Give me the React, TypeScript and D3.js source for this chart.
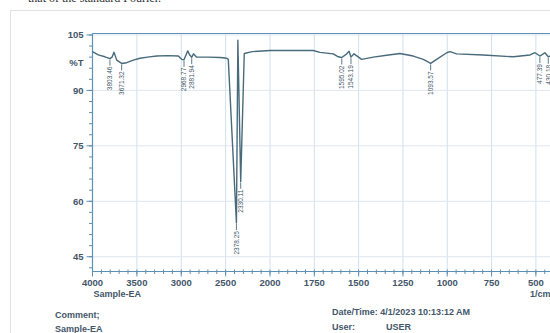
import React from "react";
import * as d3 from "d3";

const wavenumbers = [
  4000, 3935, 3860, 3803.46, 3780, 3758, 3727, 3671.32, 3615, 3540, 3465, 3380, 3277, 3150, 3033,
  2995, 2968.77, 2927, 2905, 2881.94, 2862, 2826, 2700, 2560, 2488, 2470, 2378.25, 2362, 2330.11,
  2290, 2200, 2000, 1756, 1718, 1643, 1615, 1595.02, 1567, 1554, 1543.19, 1526, 1483, 1417, 1342,
  1267, 1192, 1135, 1093.57, 1060, 1003, 984, 947, 797, 627, 533, 505, 477.39, 449, 430.18, 400,
];
const transmittance = [
  100.5, 99.6, 99.1, 98.6, 99.0, 100.3, 98.2, 97.3, 97.5, 98.2, 98.7, 99.0, 99.3, 99.4, 99.3,
  98.4, 98.3, 100.7, 99.6, 99.0, 99.9, 99.0, 99.0, 98.9, 98.7, 98.4, 54.1, 103.6, 65.3,
  100.0, 100.5, 100.8, 100.8, 100.3, 99.9, 99.1, 98.9, 99.9, 100.6, 99.0, 99.9, 98.4, 99.0, 99.5,
  100.0, 99.3, 98.4, 97.3, 98.4, 100.2, 100.5, 99.9, 99.6, 99.1, 99.6, 100.2, 99.3, 100.2, 99.1, 99.8,
];
const peakWavenumbers = [3803.46, 3671.32, 2968.77, 2881.94, 2378.25, 2330.11, 1595.02, 1543.19, 1093.57, 477.39, 430.18];
const majorXTicks = [4000, 3500, 3000, 2500, 2000, 1750, 1500, 1250, 1000, 750, 500];
const majorYTicks = [105, 90, 75, 60, 45];
const yUnitLabel = "%T";
const yUnitLabelValue = 97.5;
const sampleName = "Sample-EA";
const xUnit = "1/cm";
const dateTime = "4/1/2023 10:13:12 AM";
const userName = "USER";

const W = 550;
const H = 333;
const FONT = "'Liberation Sans', Arial, sans-serif";

export default function App() {
  const x = d3.scaleLinear().domain([4000, 2000, 400]).range([92.5, 270, 553.6]);
  const y = d3.scaleLinear().domain([41, 105.4]).range([271.5, 33.5]);

  const pts = wavenumbers.map((w, i) => [w, transmittance[i]] as [number, number]);
  const line = d3
    .line<[number, number]>()
    .x((d) => x(d[0]))
    .y((d) => y(d[1]))(pts);

  const minorX: number[] = [];
  for (let w = 4000; w >= 2000; w -= 100) minorX.push(w);
  for (let w = 1950; w >= 400; w -= 50) minorX.push(w);
  const minorY: number[] = [];
  for (let v = 105; v >= 41; v -= 3) minorY.push(v);

  const left = x(4000);
  const right = x(400);
  const top = y(105.4);
  const bottom = y(41);

  const axisColor = "#5f90b4";
  const gridColor = "#cfe0ec";
  const textColor = "#44566a";
  const lineColor = "#486b7c";

  return (
    <div style={{ position: "fixed", left: 0, top: 0, width: W, height: H, background: "#fff" }}>
      <svg width={W} height={H} style={{ display: "block" }}>
        <rect x={0} y={0} width={W} height={H} fill="#fff" />
        <text x={28} y={2} fontFamily="'Liberation Serif', serif" fontSize={12} fill="#333">
          that of the standard Fourier.
        </text>
        <rect x={10.5} y={10.5} width={600} height={400} fill="none" stroke="#e6e1e1" strokeWidth={1} />

        {/* grid */}
        {majorXTicks.map((t) => (
          <line key={"gx" + t} x1={x(t)} x2={x(t)} y1={top} y2={bottom} stroke={gridColor} strokeWidth={1} />
        ))}
        {majorYTicks.map((t) => (
          <line key={"gy" + t} x1={left} x2={right} y1={y(t)} y2={y(t)} stroke="#e0e6ee" strokeWidth={1} />
        ))}

        {/* axes frame */}
        <line x1={left} x2={right} y1={top} y2={top} stroke={axisColor} strokeWidth={1.2} />
        <line x1={left} x2={right} y1={bottom} y2={bottom} stroke={axisColor} strokeWidth={1.2} />
        <line x1={left} x2={left} y1={top} y2={bottom} stroke={axisColor} strokeWidth={1.2} />

        {/* y ticks */}
        {minorY.map((v) => (
          <line key={"my" + v} x1={left - 3.5} x2={left} y1={y(v)} y2={y(v)} stroke={axisColor} strokeWidth={1} />
        ))}
        {majorYTicks.map((v) => (
          <g key={"ty" + v}>
            <line x1={left - 6} x2={left} y1={y(v)} y2={y(v)} stroke={axisColor} strokeWidth={1} />
            <text x={left - 9} y={y(v)} dy="0.35em" textAnchor="end" fontFamily={FONT} fontSize={9.5} fontWeight="bold" fill={textColor}>
              {v}
            </text>
          </g>
        ))}
        <text x={left - 9} y={y(yUnitLabelValue)} dy="0.35em" textAnchor="end" fontFamily={FONT} fontSize={9.5} fontWeight="bold" fill={textColor}>
          {yUnitLabel}
        </text>

        {/* x ticks */}
        {minorX.map((w) => (
          <line key={"mx" + w} x1={x(w)} x2={x(w)} y1={bottom - 2} y2={bottom + 2.5} stroke={axisColor} strokeWidth={1} />
        ))}
        {majorXTicks.map((w) => (
          <g key={"tx" + w}>
            <line x1={x(w)} x2={x(w)} y1={bottom} y2={bottom + 5} stroke={axisColor} strokeWidth={1} />
            <text x={x(w)} y={286} textAnchor="middle" fontFamily={FONT} fontSize={9.5} fontWeight="bold" fill={textColor}>
              {w}
            </text>
          </g>
        ))}
        <text x={left + 1} y={297} fontFamily={FONT} fontSize={9} fontWeight="bold" fill={textColor}>
          {sampleName}
        </text>
        <text x={530} y={297} fontFamily={FONT} fontSize={9} fontWeight="bold" fill={textColor}>
          {xUnit}
        </text>

        {/* spectrum */}
        <path d={line ?? ""} fill="none" stroke={lineColor} strokeWidth={1.4} strokeLinejoin="round" />

        {/* peak labels */}
        {peakWavenumbers.map((w) => {
          const i = wavenumbers.indexOf(w);
          const px = x(w);
          const py = y(transmittance[i]);
          const start = py + 7;
          return (
            <g key={"pk" + w}>
              <line x1={px} x2={px} y1={py + 1} y2={start} stroke={lineColor} strokeWidth={0.9} />
              <text
                transform={`translate(${px},${start + 1}) rotate(-90)`}
                textAnchor="end"
                dy="0.35em"
                fontFamily={FONT}
                fontSize={6.5}
                fill="#3f5869"
              >
                {w.toFixed(2)}
              </text>
            </g>
          );
        })}

        {/* footer */}
        <text x={55} y={318} fontFamily={FONT} fontSize={9} fontWeight="bold" fill={textColor}>
          Comment;
        </text>
        <text x={55} y={332} fontFamily={FONT} fontSize={9} fontWeight="bold" fill={textColor}>
          {sampleName}
        </text>
        <text x={332} y={315} fontFamily={FONT} fontSize={9} fontWeight="bold" fill={textColor}>
          {"Date/Time: " + dateTime}
        </text>
        <text x={332} y={329.5} fontFamily={FONT} fontSize={9} fontWeight="bold" fill={textColor}>
          User:
        </text>
        <text x={386} y={329.5} fontFamily={FONT} fontSize={9} fontWeight="bold" fill={textColor}>
          {userName}
        </text>
      </svg>
    </div>
  );
}
